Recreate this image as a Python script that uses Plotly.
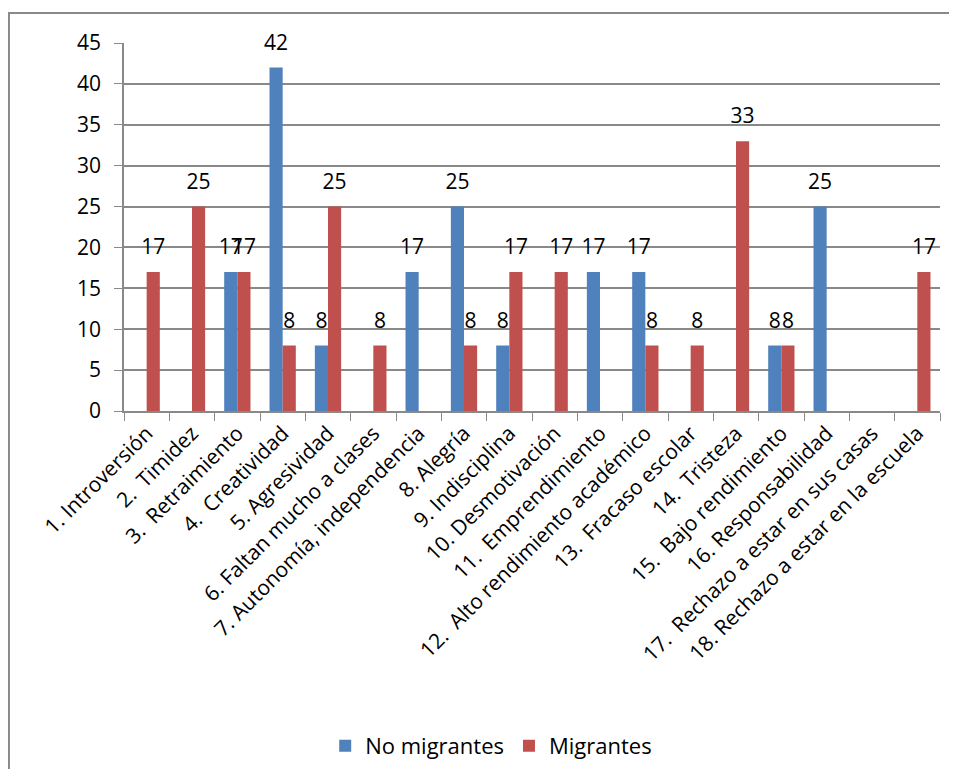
import plotly.graph_objects as go

CATEGORIAS = [
    "1. Introversión",
    "2.  Timidez",
    "3.  Retraimiento",
    "4.  Creatividad",
    "5. Agresividad",
    "6. Faltan mucho a clases",
    "7. Autonomía, independencia",
    "8. Alegría",
    "9. Indisciplina",
    "10. Desmotivación",
    "11.  Emprendimiento",
    "12.  Alto rendimiento académico",
    "13.  Fracaso escolar",
    "14.  Tristeza",
    "15.  Bajo rendimiento",
    "16. Responsabilidad",
    "17.  Rechazo a estar en sus casas",
    "18. Rechazo a estar en la escuela",
]

NO_MIGRANTES = [0, 0, 17, 42, 8, 0, 17, 25, 8, 0, 17, 17, 0, 0, 8, 25, 0, 0]
MIGRANTES = [17, 25, 17, 8, 25, 8, 0, 8, 17, 17, 0, 8, 8, 33, 8, 0, 0, 17]

COLORS = {"No migrantes": "#4F81BD", "Migrantes": "#C0504D"}
FONT = "Open Sans, Carlito, Calibri, sans-serif"
GRAY = "#898989"


def _labels(values):
    # Excel deja sin etiqueta los valores en cero; la línea vacía separa la etiqueta de la barra
    return [f"<span style='font-size:21px'>{v}</span><br>\u00a0" if v else "" for v in values]


fig = go.Figure()
for name, vals in [("No migrantes", NO_MIGRANTES), ("Migrantes", MIGRANTES)]:
    fig.add_trace(go.Bar(
        name=name,
        x=CATEGORIAS,
        y=vals,
        marker_color=COLORS[name],
        marker_line_width=0,
        text=_labels(vals),
        textposition="outside",
        textangle=0,
        constraintext="none",
        textfont=dict(size=9, color="black", family=FONT),
        cliponaxis=False,
    ))

# la página añade 8px de margen al cuerpo: la figura cabe en 941x761 sin barras de desplazamiento
fig.update_layout(
    width=941,
    height=761,
    barmode="group",
    bargap=0.42,
    bargroupgap=0,
    plot_bgcolor="white",
    paper_bgcolor="white",
    font=dict(family=FONT, size=21, color="black"),
    margin=dict(l=116, r=9, t=35, b=358, autoexpand=False),
    legend=dict(
        orientation="h",
        x=0.45,
        xanchor="center",
        y=-0.91,
        yanchor="middle",
        font=dict(size=22),
        itemwidth=30,
        traceorder="normal",
    ),
    # marco del gráfico (solo se ven los lados izquierdo y superior)
    shapes=[dict(
        type="rect",
        xref="paper",
        yref="paper",
        x0=-0.141,
        x1=1.2,
        y0=-1.2,
        y1=1.0815,
        line=dict(color=GRAY, width=2),
        layer="below",
    )],
)

fig.update_yaxes(
    range=[0, 45],
    dtick=5,
    showgrid=True,
    gridcolor=GRAY,
    gridwidth=1.5,
    showline=True,
    linecolor=GRAY,
    linewidth=1.5,
    ticks="outside",
    ticklen=8,
    tickcolor=GRAY,
    ticklabelstandoff=9,
    zeroline=False,
    automargin=False,
    tickfont=dict(size=21),
)
fig.update_xaxes(
    showline=True,
    linecolor=GRAY,
    linewidth=1.5,
    ticks="outside",
    tickson="boundaries",
    ticklen=8,
    tickcolor=GRAY,
    tickangle=-45,
    automargin=False,
    tickfont=dict(size=21),
)

fig.write_html("out.html")
